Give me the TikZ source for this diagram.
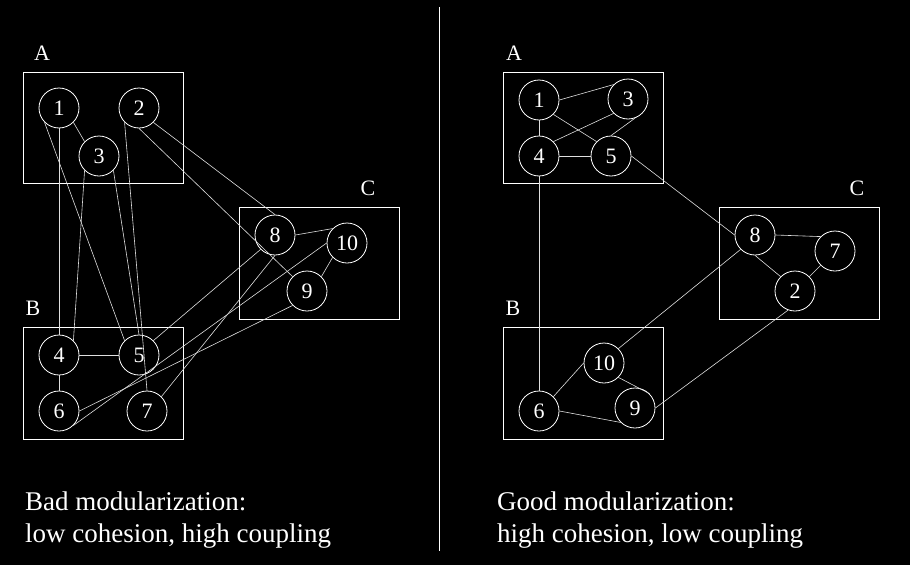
\documentclass[tikz,border=0pt]{standalone}
\usepackage{fontspec}
\setmainfont{Liberation Serif}

\tikzset{
  modulo/.style={draw=white, line width=0.9pt},
  nodo/.style={circle, draw=white, line width=0.8pt, minimum size=40pt, inner sep=0pt,
    text=white, font=\fontsize{22}{22}\selectfont},
  arista/.style={draw=gray!25, line width=0.6pt},
  etiqueta/.style={text=white, font=\fontsize{22}{22}\selectfont},
  leyenda/.style={text=white, anchor=base west, inner sep=0pt, font=\fontsize{27}{27}\selectfont}
}

\begin{document}
\begin{tikzpicture}[x=1pt, y=-1pt]
    % Fondo negro
    \fill[black] (0,0) rectangle (910,565);
    \useasboundingbox (0,0) rectangle (910,565);
    % Separador vertical
    \coordinate (sepArriba) at (439,7);
    \coordinate (sepAbajo) at (439,551);
    \draw[white, line width=1pt] (sepArriba) -- (sepAbajo);

    % ---- Mala modularizacion ----
    % Modulos
    \draw[modulo] (23,72) rectangle (183,183);
    \draw[modulo] (23,327) rectangle (183,439);
    \draw[modulo] (239,207) rectangle (399,319);
    \node[etiqueta] (lA) at (42,53) {A};
    \node[etiqueta] (lB) at (33,308) {B};
    \node[etiqueta] (lC) at (368,188) {C};
    % Componentes
    \node[nodo] (l1) at (59,108) {1};
    \node[nodo] (l2) at (139,108) {2};
    \node[nodo] (l3) at (99,156) {3};
    \node[nodo] (l4) at (59,355) {4};
    \node[nodo] (l5) at (139,355) {5};
    \node[nodo] (l6) at (59,411) {6};
    \node[nodo] (l7) at (147,411) {7};
    \node[nodo] (l8) at (275,235) {8};
    \node[nodo] (l9) at (307,291) {9};
    \node[nodo] (l10) at (347,243) {10};
    % Dependencias
    \foreach \a/\b in {l1.south east/l3.north west, l1.south/l4.north, l1.south west/l5.north west,
        l3.south west/l4.north east, l3.south east/l5.north, l2.south west/l7.north,
        l2.south east/l8.north, l2.south/l9.north west, l4.east/l5.west, l4.south/l6.north,
        l8.east/l10.north west, l10.south west/l9.north east, l8.south west/l5.north east,
        l8.south/l7.north east, l10.west/l6.south east, l9.south west/l6.east}
      \draw[arista] (\a) -- (\b);
    % Texto
    \node[leyenda] (malo1) at (25,510) {Bad modularization:};
    \node[leyenda] (malo2) at (25,542) {low cohesion, high coupling};

    % ---- Buena modularizacion ----
    % Modulos
    \draw[modulo] (503,72) rectangle (663,183);
    \draw[modulo] (503,327) rectangle (663,439);
    \draw[modulo] (719,207) rectangle (879,319);
    \node[etiqueta] (rA) at (514,53) {A};
    \node[etiqueta] (rB) at (513,308) {B};
    \node[etiqueta] (rC) at (857,188) {C};
    % Componentes
    \node[nodo] (r1) at (539,100) {1};
    \node[nodo] (r3) at (628,99) {3};
    \node[nodo] (r4) at (539,156) {4};
    \node[nodo] (r5) at (611,156) {5};
    \node[nodo] (r8) at (755,235) {8};
    \node[nodo] (r7) at (835,251) {7};
    \node[nodo] (r2) at (795,291) {2};
    \node[nodo] (r10) at (604,363) {10};
    \node[nodo] (r6) at (539,411) {6};
    \node[nodo] (r9) at (635,408) {9};
    % Dependencias
    \foreach \a/\b in {r1.east/r3.north west, r1.south/r4.north, r1.south east/r5.north west,
        r3.south west/r4.north east, r3.-70/r5.north, r4.east/r5.west, r4.south/r6.north,
        r5.east/r8.west, r8.east/r7.north west, r8.south/r2.north west, r7.south west/r2.north east,
        r8.south west/r10.north east, r10.west/r6.north east, r10.south east/r9.north east,
        r6.east/r9.south west, r2.-110/r9.east}
      \draw[arista] (\a) -- (\b);
    % Texto
    \node[leyenda] (bueno1) at (497,510) {Good modularization:};
    \node[leyenda] (bueno2) at (497,542) {high cohesion, low coupling};
\end{tikzpicture}
\end{document}
